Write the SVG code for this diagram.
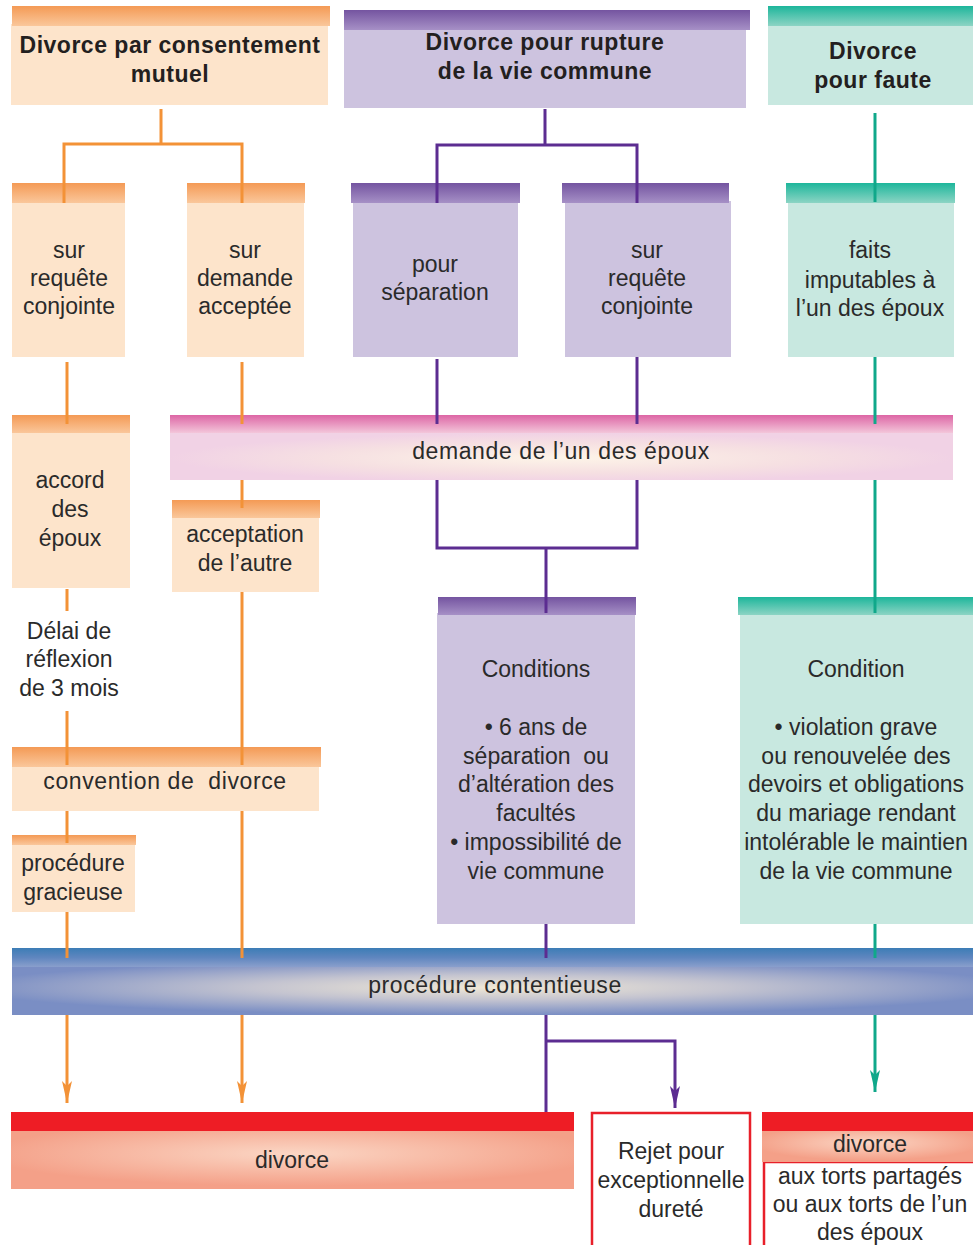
<svg xmlns="http://www.w3.org/2000/svg" width="973" height="1245" viewBox="0 0 973 1245">
<defs>
<linearGradient id="gO" x1="0" y1="0" x2="0" y2="1"><stop offset="0" stop-color="#f49a55"/><stop offset="1" stop-color="#fac79b"/></linearGradient>
<linearGradient id="gP" x1="0" y1="0" x2="0" y2="1"><stop offset="0" stop-color="#7454a0"/><stop offset="1" stop-color="#a690c6"/></linearGradient>
<linearGradient id="gG" x1="0" y1="0" x2="0" y2="1"><stop offset="0" stop-color="#1db69b"/><stop offset="1" stop-color="#8cd4c4"/></linearGradient>
<linearGradient id="gK" x1="0" y1="0" x2="0" y2="1"><stop offset="0" stop-color="#dd66a5"/><stop offset="1" stop-color="#f3c6da"/></linearGradient>
<linearGradient id="gB" x1="0" y1="0" x2="0" y2="1"><stop offset="0" stop-color="#3c7db6"/><stop offset="0.5" stop-color="#5f86bf"/><stop offset="1" stop-color="#8a9fcc"/></linearGradient>
<radialGradient id="rK" cx="0.5" cy="0.55" r="0.5"><stop offset="0" stop-color="#fdf4e8"/><stop offset="0.6" stop-color="#f6e0e2"/><stop offset="1" stop-color="#f1d2e5"/></radialGradient>
<radialGradient id="rB" cx="0.5" cy="0.45" r="0.55"><stop offset="0" stop-color="#f0e8d6"/><stop offset="0.45" stop-color="#c4c4d0"/><stop offset="1" stop-color="#7a8ec4"/></radialGradient>
<radialGradient id="rS" cx="0.5" cy="0.4" r="0.55"><stop offset="0" stop-color="#fbd6c4"/><stop offset="1" stop-color="#f4a088"/></radialGradient>
<marker id="aO" markerUnits="userSpaceOnUse" viewBox="-1 -6 24 12" refX="22" refY="0" markerWidth="24" markerHeight="12" orient="auto"><path d="M0,-5 L22,0 L0,5 L5,0 Z" fill="#f39237"/></marker>
<marker id="aP" markerUnits="userSpaceOnUse" viewBox="-1 -6 24 12" refX="22" refY="0" markerWidth="24" markerHeight="12" orient="auto"><path d="M0,-5 L22,0 L0,5 L5,0 Z" fill="#5c2d91"/></marker>
<marker id="aG" markerUnits="userSpaceOnUse" viewBox="-1 -6 24 12" refX="22" refY="0" markerWidth="24" markerHeight="12" orient="auto"><path d="M0,-5 L22,0 L0,5 L5,0 Z" fill="#10a88a"/></marker>
</defs>
<style>
text{font-family:"Liberation Sans",Arial,sans-serif;fill:#2a2a2a;text-anchor:middle;font-size:23px}
.h{font-weight:bold;font-size:23px;letter-spacing:0.5px;fill:#231f20}
.w{letter-spacing:0.6px}
.bo{fill:#fde4cb}.bp{fill:#cdc3df}.bg{fill:#c8e8e0}
.so{fill:url(#gO)}.sp{fill:url(#gP)}.sg{fill:url(#gG)}
.red{fill:#ee1d25}
.out{fill:#fff;stroke:#e8202a;stroke-width:2.5}
.co{stroke:#f39237;stroke-width:3;fill:none}
.cp{stroke:#5c2d91;stroke-width:3;fill:none}
.cg{stroke:#10a88a;stroke-width:3;fill:none}
</style>
<rect width="973" height="1245" fill="#fff"/>

<g id="n-mutuel">
<rect class="bo" x="11" y="24" width="317" height="81"/>
<rect class="so" x="12" y="6" width="318" height="20"/>
<text class="h"><tspan x="170" y="53">Divorce par consentement</tspan><tspan x="170" y="82">mutuel</tspan></text>
</g>
<g id="n-rupture">
<rect class="bp" x="344" y="28" width="402" height="80"/>
<rect class="sp" x="344" y="10" width="406" height="20"/>
<text class="h"><tspan x="545" y="50">Divorce pour rupture</tspan><tspan x="545" y="79">de la vie commune</tspan></text>
</g>
<g id="n-faute">
<rect class="bg" x="768" y="24" width="205" height="81"/>
<rect class="sg" x="768" y="6" width="205" height="20"/>
<text class="h"><tspan x="873" y="59">Divorce</tspan><tspan x="873" y="88">pour faute</tspan></text>
</g>

<g id="n-requete1">
<rect class="bo" x="12" y="201" width="113" height="156"/>
<rect class="so" x="12" y="183" width="113" height="20"/>
<text><tspan x="69" y="258">sur</tspan><tspan x="69" y="286">requête</tspan><tspan x="69" y="314">conjointe</tspan></text>
</g>
<g id="n-demande">
<rect class="bo" x="187" y="201" width="117" height="156"/>
<rect class="so" x="187" y="183" width="118" height="20"/>
<text><tspan x="245" y="258">sur</tspan><tspan x="245" y="286">demande</tspan><tspan x="245" y="314">acceptée</tspan></text>
</g>
<g id="n-separation">
<rect class="bp" x="353" y="201" width="165" height="156"/>
<rect class="sp" x="351" y="183" width="169" height="20"/>
<text><tspan x="435" y="272">pour</tspan><tspan x="435" y="300">séparation</tspan></text>
</g>
<g id="n-requete2">
<rect class="bp" x="565" y="201" width="166" height="156"/>
<rect class="sp" x="562" y="183" width="167" height="20"/>
<text><tspan x="647" y="258">sur</tspan><tspan x="647" y="286">requête</tspan><tspan x="647" y="314">conjointe</tspan></text>
</g>
<g id="n-faits">
<rect class="bg" x="788" y="201" width="166" height="156"/>
<rect class="sg" x="786" y="183" width="169" height="20"/>
<text><tspan x="870" y="258">faits</tspan><tspan x="870" y="288">imputables à</tspan><tspan x="870" y="316">l’un des époux</tspan></text>
</g>

<g id="n-demande-epoux">
<rect x="170" y="431" width="783" height="49" fill="url(#rK)"/>
<rect x="170" y="415" width="783" height="18" fill="url(#gK)"/>
<text class="w" x="561" y="459">demande de l’un des époux</text>
</g>
<g id="n-accord">
<rect class="bo" x="12" y="431" width="118" height="157"/>
<rect class="so" x="12" y="415" width="118" height="18"/>
<text><tspan x="70" y="488">accord</tspan><tspan x="70" y="517">des</tspan><tspan x="70" y="546">époux</tspan></text>
</g>
<g id="n-acceptation">
<rect class="bo" x="172" y="516" width="147" height="76"/>
<rect class="so" x="172" y="500" width="148" height="18"/>
<text><tspan x="245" y="542">acceptation</tspan><tspan x="245" y="571">de l’autre</tspan></text>
</g>
<g id="n-delai">
<text><tspan x="69" y="639">Délai de</tspan><tspan x="69" y="667">réflexion</tspan><tspan x="69" y="696">de 3 mois</tspan></text>
</g>
<g id="n-conditions">
<rect class="bp" x="437" y="613" width="198" height="311"/>
<rect class="sp" x="438" y="597" width="198" height="18"/>
<text xml:space="preserve"><tspan x="536" y="677">Conditions</tspan><tspan x="536" y="735">• 6 ans de</tspan><tspan x="536" y="764">séparation  ou</tspan><tspan x="536" y="792">d’altération des</tspan><tspan x="536" y="821">facultés</tspan><tspan x="536" y="850">• impossibilité de</tspan><tspan x="536" y="879">vie commune</tspan></text>
</g>
<g id="n-condition">
<rect class="bg" x="740" y="613" width="233" height="311"/>
<rect class="sg" x="738" y="597" width="235" height="18"/>
<text><tspan x="856" y="677">Condition</tspan><tspan x="856" y="735">• violation grave</tspan><tspan x="856" y="764">ou renouvelée des</tspan><tspan x="856" y="792">devoirs et obligations</tspan><tspan x="856" y="821">du mariage rendant</tspan><tspan x="856" y="850">intolérable le maintien</tspan><tspan x="856" y="879">de la vie commune</tspan></text>
</g>
<g id="n-convention">
<rect class="bo" x="12" y="765" width="307" height="46"/>
<rect class="so" x="12" y="747" width="309" height="20"/>
<text class="w" x="165" y="789" xml:space="preserve">convention de  divorce</text>
</g>
<g id="n-gracieuse">
<rect class="bo" x="12" y="843" width="123" height="69"/>
<rect class="so" x="12" y="835" width="124" height="10"/>
<text><tspan x="73" y="871">procédure</tspan><tspan x="73" y="900">gracieuse</tspan></text>
</g>
<g id="n-contentieuse">
<rect x="12" y="965" width="961" height="50" fill="url(#rB)"/>
<rect x="12" y="948" width="961" height="19" fill="url(#gB)"/>
<text class="w" x="495" y="993">procédure contentieuse</text>
</g>
<g id="n-divorce">
<rect x="11" y="1130" width="563" height="59" fill="url(#rS)"/>
<rect class="red" x="11" y="1112" width="563" height="19"/>
<text x="292" y="1168">divorce</text>
</g>
<g id="n-rejet">
<rect class="out" x="592" y="1113" width="158" height="140"/>
<text><tspan x="671" y="1159">Rejet pour</tspan><tspan x="671" y="1188">exceptionnelle</tspan><tspan x="671" y="1217">dureté</tspan></text>
</g>
<g id="n-divorce-faute">
<rect class="out" x="764" y="1162" width="215" height="95"/>
<rect x="762" y="1130" width="211" height="32" fill="url(#rS)"/>
<rect class="red" x="762" y="1112" width="211" height="19"/>
<text x="870" y="1152">divorce</text>
<text><tspan x="870" y="1184">aux torts partagés</tspan><tspan x="870" y="1212">ou aux torts de l’un</tspan><tspan x="870" y="1240">des époux</tspan></text>
</g>

<g id="connectors">
<path class="co" d="M161,109 V144 M64,203 V144 H242 V203"/>
<path class="cp" d="M545,109 V145 M437,203 V145 H637 V203"/>
<path class="cg" d="M875,113 V202"/>
<path class="co" d="M67,362 V424"/>
<path class="co" d="M242,362 V424"/>
<path class="cp" d="M437,359 V424"/>
<path class="cp" d="M637,357 V424"/>
<path class="cg" d="M875,357 V424"/>
<path class="co" d="M242,480 V508"/>
<path class="cp" d="M437,480 V548 H637 V480 M546,548 V613"/>
<path class="cg" d="M875,480 V613"/>
<path class="co" d="M67,589 V611 M67,711 V765"/>
<path class="co" d="M242,592 V765"/>
<path class="co" d="M67,811 V843"/>
<path class="co" d="M67,912 V958"/>
<path class="co" d="M242,811 V958"/>
<path class="cp" d="M546,924 V958"/>
<path class="cg" d="M875,924 V958"/>
<path class="co" d="M67,1015 V1103" marker-end="url(#aO)"/>
<path class="co" d="M242,1015 V1103" marker-end="url(#aO)"/>
<path class="cp" d="M546,1015 V1112 M546,1041 H675 V1108" marker-end="url(#aP)"/>
<path class="cg" d="M875,1015 V1092" marker-end="url(#aG)"/>
</g>
</svg>
